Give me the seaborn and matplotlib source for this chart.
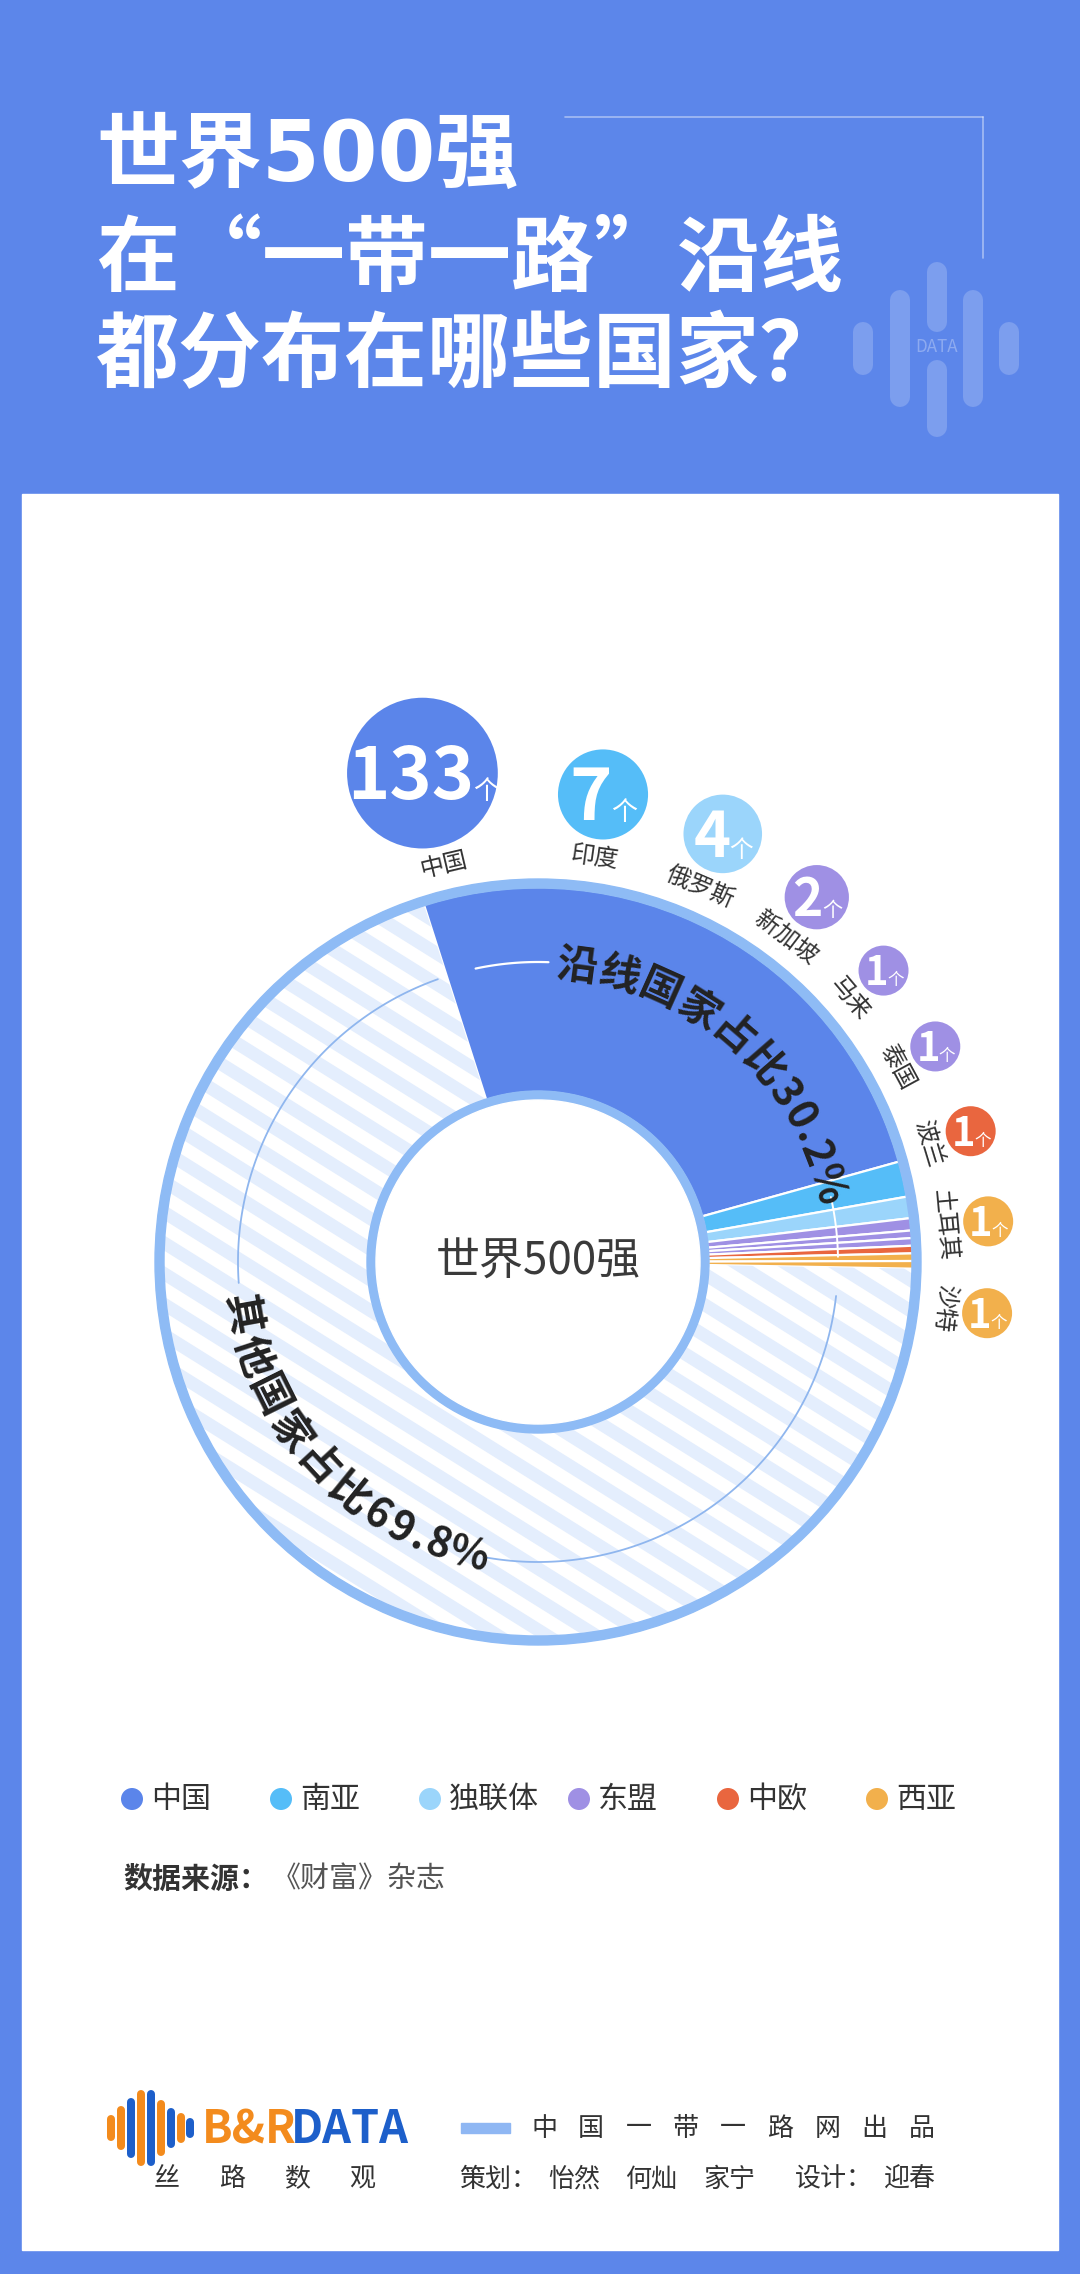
import numpy as np
import pandas as pd
import matplotlib
matplotlib.use("Agg")
import matplotlib.pyplot as plt
from matplotlib.patches import Wedge, Circle, Rectangle
import seaborn as sns

sns.set_theme(style="white")
plt.rcParams['font.family'] = ['Noto Sans CJK SC', 'DejaVu Sans']

# ---- data ----
countries = ["中国", "印度", "俄罗斯", "新加坡", "马来", "泰国", "波兰", "土耳其", "沙特"]
counts = [133, 7, 4, 2, 1, 1, 1, 1, 1]
regions = ["中国", "南亚", "独联体", "东盟", "东盟", "东盟", "中欧", "西亚", "西亚"]
region_order = ["中国", "南亚", "独联体", "东盟", "中欧", "西亚"]
region_colors = ["#5b85ea", "#55bdf8", "#9bd5fb", "#9f90e4", "#e9663f", "#f2b04c"]
total = 500
label_along = "沿线国家占比30.2%"
label_other = "其他国家占比69.8%"
center_label = "世界500强"
title_lines = ["世界500强", "在“一带一路”沿线", "都分布在哪些国家？"]
source_head = "数据来源："
source_body = "《财富》杂志"

W, H = 1080, 2274
BG = "#5c86ea"
RING = "#8ebbf5"
PX = 0.72  # points per pixel at dpi 100

fig = plt.figure(figsize=(W / 100, H / 100), dpi=100)
fig.patch.set_facecolor(BG)
ax = fig.add_axes([0, 0, 1, 1])
ax.set_xlim(0, W)
ax.set_ylim(H, 0)
ax.axis("off")
ax.set_facecolor(BG)
renderer = fig.canvas.get_renderer()

# white card
ax.add_patch(Rectangle((22, 494), 1036, 1756, color="white", zorder=0))

# ---- header ----
title_fams = [['DejaVu Sans', 'Noto Sans CJK SC'], ['Noto Sans CJK SC'], ['Noto Sans CJK SC']]
for line, yy, fam in zip(title_lines, [157, 261, 357], title_fams):
    ax.text(96, yy, line, color="white", fontsize=83 * PX, fontweight="heavy",
            family=fam, ha="left", va="center")
ax.plot([565, 983], [117, 117], color="white", alpha=0.45, lw=1.2)
ax.plot([983, 983], [117, 258], color="white", alpha=0.45, lw=1.2)
bar_x = [863, 900, 937, 973, 1009]
bar_y = [(322, 375), (290, 407), (262, 437), (290, 407), (322, 375)]
for bx, (y0, y1) in zip(bar_x, bar_y):
    if bx == 937:
        segs = [(y0, 332), (360, y1)]
    else:
        segs = [(y0, y1)]
    for s0, s1 in segs:
        ax.plot([bx, bx], [s0 + 10, s1 - 10], color="white", alpha=0.2,
                lw=20 * PX, solid_capstyle="round")
ax.text(937, 347, "DATA", color="white", alpha=0.3, fontsize=17 * PX,
        ha="center", va="center")

# ---- donut ----
cx, cy = 538, 1262
R_out, R_in = 375, 170
a_start = 107.7
along_span = 108.72  # 30.2% of the circle


def P(r, a):
    return cx + r * np.cos(np.radians(a)), cy - r * np.sin(np.radians(a))


def vwedge(r, a1, a2, width, **kw):
    # visual angles a1 < a2, counter-clockwise on screen
    w = Wedge((cx, cy), r, -a2, -a1, width=width, **kw)
    ax.add_patch(w)
    return w


color_of = dict(zip(region_order, region_colors))
# small segments get a little padding so the white separators don't swallow them
spans = np.array(counts, dtype=float) / total * 360
spans[1:] += 0.45
spans[0] = along_span - spans[1:].sum()
a = a_start
for sp, r_ in zip(spans, regions):
    vwedge(R_out, a - sp, a, R_out - R_in, facecolor=color_of[r_],
           edgecolor="white", lw=1.6, zorder=2)
    a -= sp
a_end = a

other = vwedge(R_out, a_start - 360, a_end, R_out - R_in, facecolor="white",
               edgecolor="none", zorder=2)
d = np.array([np.cos(np.radians(32)), np.sin(np.radians(32))])
n = np.array([-d[1], d[0]])
for k in range(-45, 46):
    p = np.array([cx, cy]) + k * 26 * n
    q0, q1 = p - 600 * d, p + 600 * d
    ln, = ax.plot([q0[0], q1[0]], [q0[1], q1[1]], color="#e4eefd",
                  lw=13 * PX, solid_capstyle="butt", zorder=2.1)
    ln.set_clip_path(other)

# rings
vwedge(383, 0, 360, 9, color=RING, zorder=3)
ax.add_patch(Circle((cx, cy), 171, color=RING, zorder=3))
ax.add_patch(Circle((cx, cy), 162, color="white", zorder=3.1))
ax.text(cx, cy, center_label, fontsize=44 * PX, color="#3a3a3a",
        ha="center", va="center", zorder=4)


def arc(r, a1, a2, **kw):
    t = np.linspace(a1, a2, 120)
    xs, ys = P(r, t)
    ax.plot(xs, ys, zorder=3, **kw)


arc(300, 88, 102, color="white", lw=1.6)
arc(300, 1.0, 12.5, color="white", lw=1.4)
arc(300, 109.5, 184, color="#8fb6ee", lw=1.3)
arc(300, 260, 353.5, color="#8fb6ee", lw=1.3)


def adv(ch):
    if ch.isdigit():
        return 0.6
    if ch == ".":
        return 0.3
    if ch == "%":
        return 0.9
    return 1.0


def arc_text(s, r, a0, fs, clockwise):
    pos = 0.0
    for ch in s:
        w = adv(ch) * fs + 2
        da = np.degrees((pos + w / 2) / r)
        ang = a0 - da if clockwise else a0 + da
        x, y = P(r, ang)
        rot = ang - 90 if clockwise else ang + 90
        ax.text(x, y, ch, rotation=rot, rotation_mode="anchor", ha="center",
                va="center", fontsize=fs * PX, color="#222222",
                fontweight="bold", zorder=4)
        pos += w


arc_text(label_along, 298, 86.5, 41, True)
arc_text(label_other, 301, 186, 41, False)

# ---- bubbles ----
rb = 25 + 10.3 * np.log(np.array(counts, dtype=float))
angs = [103.3]
for i in range(1, len(counts)):
    gap = 60 if i == 1 else 42
    Rm = 427 + (rb[i - 1] + rb[i]) / 2
    angs.append(angs[-1] - np.degrees((rb[i - 1] + rb[i] + gap) / Rm))
angs = np.array(angs)
bx, by = P(427 + rb, angs)
df = pd.DataFrame({"country": countries, "count": counts, "region": regions,
                   "x": bx, "y": by})
sizes = {c: (2 * r * PX) ** 2 for c, r in zip(countries, rb)}
sns.scatterplot(data=df, x="x", y="y", hue="region", palette=color_of,
                size="country", sizes=sizes, legend=False, linewidth=0,
                ax=ax, zorder=5)

for i, row in df.iterrows():
    r = rb[i]
    fs_num = min(1.6 * r, 72)
    fs_ge = min(0.5 * r + 4, 26)
    base = row["y"] + 0.36 * fs_num
    tn = ax.text(0, base, str(row["count"]), fontsize=fs_num * PX,
                 fontweight="bold", color="white", ha="left", va="baseline",
                 zorder=6)
    tg = ax.text(0, base, "个", fontsize=fs_ge * PX, color="white",
                 ha="left", va="baseline", zorder=6)
    wn = tn.get_window_extent(renderer).width
    wg = tg.get_window_extent(renderer).width
    x0 = row["x"] - (wn + wg) / 2 + 1
    tn.set_x(x0)
    tg.set_x(x0 + wn - 1)
    lx, ly = P(408, angs[i])
    ax.text(lx, ly, row["country"], rotation=angs[i] - 90, rotation_mode="anchor",
            ha="center", va="center", fontsize=24 * PX, color="#333333", zorder=6)

# ---- legend ----
leg = pd.DataFrame({"region": region_order,
                    "x": 132 + 149 * np.arange(len(region_order)),
                    "y": 1799})
sns.scatterplot(data=leg, x="x", y="y", hue="region", palette=color_of,
                s=(22 * PX) ** 2, legend=False, linewidth=0, ax=ax, zorder=5)
for _, row in leg.iterrows():
    ax.text(row["x"] + 19, row["y"], row["region"], fontsize=30 * PX,
            color="#333333", ha="left", va="center")

ax.text(123, 1879, source_head, fontsize=29 * PX, fontweight="bold",
        color="#333333", ha="left", va="center")
ax.text(272, 1879, source_body, fontsize=29 * PX, color="#555555",
        ha="left", va="center")

# ---- footer ----
logo = [(111, 26, "#f38b1d"), (121, 44, "#f38b1d"), (131, 60, "#1d5fca"),
        (141, 76, "#f38b1d"), (151, 76, "#1d5fca"), (161, 56, "#f38b1d"),
        (171, 40, "#1d5fca"), (181, 30, "#f38b1d"), (190, 20, "#1d5fca")]
for lx, hh, col in logo:
    ax.plot([lx, lx], [2128 - hh / 2 + 4, 2128 + hh / 2 - 4], color=col,
            lw=8 * PX, solid_capstyle="round")
ax.text(202, 2130, "B&R", fontsize=45 * PX, fontweight="bold", color="#f38b1d",
        ha="left", va="center")
ax.text(291, 2130, "DATA", fontsize=45 * PX, fontweight="bold", color="#1d5fca",
        ha="left", va="center")
for ch, xx in zip("丝路数观", np.linspace(167, 362, 4)):
    ax.text(xx, 2179, ch, fontsize=26 * PX, color="#333333", ha="center", va="center")

ax.add_patch(Rectangle((461, 2123), 49, 10, color="#8fb7f3"))
for ch, xx in zip("中国一带一路网出品", np.linspace(544, 922, 9)):
    ax.text(xx, 2128, ch, fontsize=26 * PX, color="#333333", ha="center", va="center")
credits = [("策划：", 459), ("怡然", 548), ("何灿", 625), ("家宁", 703),
           ("设计：", 795), ("迎春", 884)]
for s, xx in credits:
    ax.text(xx, 2179, s, fontsize=26 * PX, color="#333333", ha="left", va="center")

fig.savefig("out.png", dpi=100, facecolor=BG)
